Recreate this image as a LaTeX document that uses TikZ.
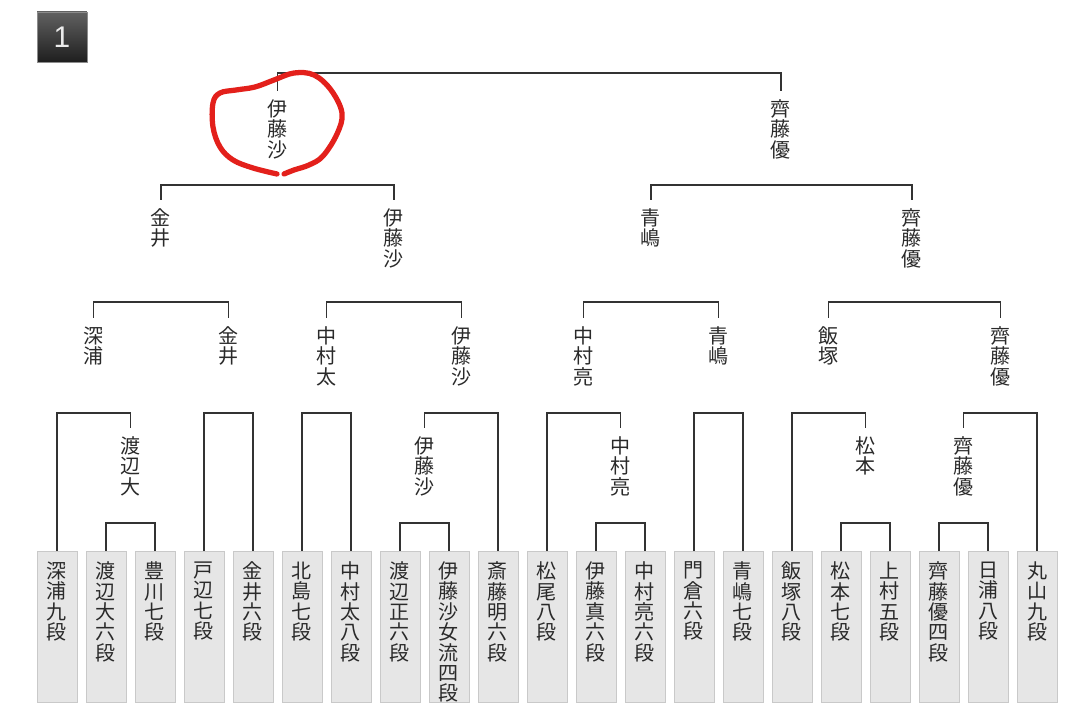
\documentclass[tikz,border=0pt]{standalone}
\usepackage{fontspec}
\usepackage{tikz}
\usetikzlibrary{positioning,calc}
\newfontfamily\jpfont{Noto Sans CJK JP}
\newfontfamily\numfont{Liberation Sans}
\definecolor{inkGray}{HTML}{2A2A2A}
\definecolor{lineGray}{HTML}{333333}
\definecolor{boxFill}{HTML}{E6E6E6}
\definecolor{boxEdge}{HTML}{C9C9C9}
\definecolor{markRed}{HTML}{E3201B}

\begin{document}
\begin{tikzpicture}[x=0.02cm, y=-0.02cm,
  pbox/.style={rectangle, draw=boxEdge, fill=boxFill, minimum width=0.8cm, minimum height=3.02cm, inner sep=0pt, anchor=north},
  ptext/.style={font=\jpfont\fontsize{11.4}{11.6}\selectfont, text=inkGray, align=center, inner sep=0pt},
  win/.style={font=\jpfont\fontsize{11.4}{11.6}\selectfont, text=inkGray, align=center, inner sep=0pt, outer ysep=0.17cm, anchor=north},
  bk/.style={draw=lineGray, line width=0.75pt},
  numbox/.style={rectangle, minimum size=1cm, top color=black!62, bottom color=black!88, draw=black!45, text=white!92!black, font=\numfont\fontsize{17}{20}\selectfont},
  redmark/.style={draw=markRed, line width=3pt, line cap=round, line join=round}
]
\useasboundingbox (0,0) rectangle (1078,715);
\coordinate (lv1) at (0,73);
\coordinate (lv2) at (0,185);
\coordinate (lv3) at (0,302);
\coordinate (lv4) at (0,413);
\coordinate (lv5) at (0,523);

\node[numbox] (badge) at (62,37) {1};

% players
\foreach \nm [count=\i from 0] in {{深\\浦\\九\\段},{渡\\辺\\大\\六\\段},{豊\\川\\七\\段},{戸\\辺\\七\\段},{金\\井\\六\\段},{北\\島\\七\\段},{中\\村\\太\\八\\段},{渡\\辺\\正\\六\\段},{伊\\藤\\沙\\女\\流\\四\\段},{斎\\藤\\明\\六\\段},{松\\尾\\八\\段},{伊\\藤\\真\\六\\段},{中\\村\\亮\\六\\段},{門\\倉\\六\\段},{青\\嶋\\七\\段},{飯\\塚\\八\\段},{松\\本\\七\\段},{上\\村\\五\\段},{齊\\藤\\優\\四\\段},{日\\浦\\八\\段},{丸\\山\\九\\段}} {
  \node[pbox] (p\i) at ({57+49*\i},551) {};
  \node[ptext, below=0.21cm of p\i.north] (t\i) {\nm};
}

% winners
\node[win] (dai) at (130.5,428) {渡\\辺\\大};
\node[win] (sa4) at (424.5,428) {伊\\藤\\沙};
\node[win] (ryo4) at (620.5,428) {中\\村\\亮};
\node[win] (matsu) at (865.5,428) {松\\本};
\node[win] (yu4) at (963.5,428) {齊\\藤\\優};
\node[win] (fuka) at (93.75,318) {深\\浦};
\node[win] (kanai3) at (228.5,318) {金\\井};
\node[win] (futo) at (326.5,318) {中\\村\\太};
\node[win] (sa3) at (461.25,318) {伊\\藤\\沙};
\node[win] (ryo3) at (583.75,318) {中\\村\\亮};
\node[win] (aoshi3) at (718.5,318) {青\\嶋};
\node[win] (iizu) at (828.75,318) {飯\\塚};
\node[win] (yu3) at (1000.25,318) {齊\\藤\\優};
\node[win] (kanai2) at (161,200) {金\\井};
\node[win] (sa2) at (394,200) {伊\\藤\\沙};
\node[win] (aoshi2) at (651,200) {青\\嶋};
\node[win] (yu2) at (912,200) {齊\\藤\\優};
\node[win] (sa1) at (277.5,91) {伊\\藤\\沙};
\node[win] (yu1) at (781,91) {齊\\藤\\優};

% first round
\draw[bk] (p1.north) |- (p2.north |- lv5) -- (p2.north);
\draw[bk] (p7.north) |- (p8.north |- lv5) -- (p8.north);
\draw[bk] (p11.north) |- (p12.north |- lv5) -- (p12.north);
\draw[bk] (p16.north) |- (p17.north |- lv5) -- (p17.north);
\draw[bk] (p18.north) |- (p19.north |- lv5) -- (p19.north);
% second round
\draw[bk] (p0.north) |- (dai.north |- lv4) -- (dai.north);
\draw[bk] (p3.north) |- (p4.north |- lv4) -- (p4.north);
\draw[bk] (p5.north) |- (p6.north |- lv4) -- (p6.north);
\draw[bk] (sa4.north) |- (p9.north |- lv4) -- (p9.north);
\draw[bk] (p10.north) |- (ryo4.north |- lv4) -- (ryo4.north);
\draw[bk] (p13.north) |- (p14.north |- lv4) -- (p14.north);
\draw[bk] (p15.north) |- (matsu.north |- lv4) -- (matsu.north);
\draw[bk] (yu4.north) |- (p20.north |- lv4) -- (p20.north);
% quarter and semi finals
\draw[bk] (fuka.north) |- (kanai3.north |- lv3) -- (kanai3.north);
\draw[bk] (futo.north) |- (sa3.north |- lv3) -- (sa3.north);
\draw[bk] (ryo3.north) |- (aoshi3.north |- lv3) -- (aoshi3.north);
\draw[bk] (iizu.north) |- (yu3.north |- lv3) -- (yu3.north);
\draw[bk] (kanai2.north) |- (sa2.north |- lv2) -- (sa2.north);
\draw[bk] (aoshi2.north) |- (yu2.north |- lv2) -- (yu2.north);
% final
\draw[bk] (sa1.north) |- (yu1.north |- lv1) -- (yu1.north);

% hand-drawn mark
\draw[redmark] plot[smooth, tension=0.6] coordinates {(277,174) (253,168) (233,160) (220,147) (213,127) (213,103) (220,93) (236,90) (255,87) (274,80) (294,73) (314,75) (331,90) (342,113) (337,134) (323,156) (309,165) (294,170) (284,174)};
\end{tikzpicture}
\end{document}
